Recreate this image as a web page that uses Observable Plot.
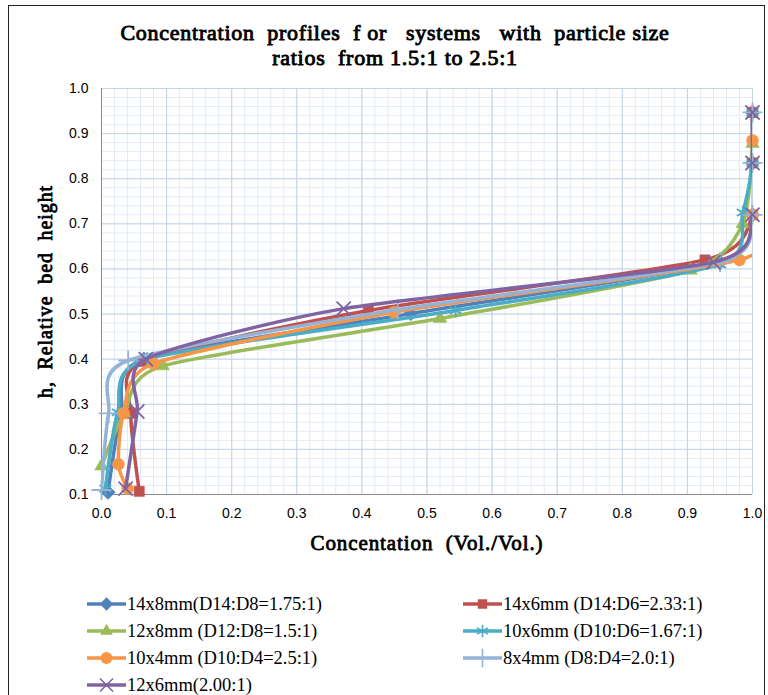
<!DOCTYPE html>
<html><head><meta charset="utf-8">
<script src="https://cdn.jsdelivr.net/npm/d3@7"></script>
<script src="https://cdn.jsdelivr.net/npm/@observablehq/plot@0.6"></script>
<style>
body{margin:0;background:#fff;width:768px;height:695px;overflow:hidden;position:relative;font-family:"Liberation Serif","Times New Roman",Times,serif}
#frame{position:absolute;left:8px;top:5px;width:757px;height:720px;border:1.5px solid #222;box-sizing:border-box}
#title{position:absolute;left:0;top:20px;width:790px;text-align:center;font-weight:normal;font-size:22px;letter-spacing:0.75px;line-height:25px;white-space:pre;color:#000;-webkit-text-stroke:0.9px #000;font-family:"Liberation Serif","Times New Roman",Times,serif}
#chart{position:absolute;left:0;top:70px}
#legend{position:absolute;left:0;top:580px}
.axtitle text{letter-spacing:0.9px}
</style>
</head><body>
<div id="frame"></div>
<div id="title">Concentration  profiles  f or   systems   with  particle size
ratios  from 1.5:1 to 2.5:1</div>
<div id="chart"></div>
<div id="legend"></div>
<script>
// ---- data (concentration, relative bed height) ----
const seriesNames = ["14x8mm(D14:D8=1.75:1)", "14x6mm (D14:D6=2.33:1)", "12x8mm (D12:D8=1.5:1)", "10x6mm (D10:D6=1.67:1)", "10x4mm (D10:D4=2.5:1)", "8x4mm (D8:D4=2.0:1)", "12x6mm(2.00:1)"];
const seriesColors = ["#4F81BD", "#C0504D", "#9BBB59", "#4BACC6", "#F79646", "#95B3D7", "#8064A2"];
const seriesSymbols = ["diamond2", "square2", "triangle2", "asterisk", "circle", "plus", "times"];

const c_14x8 = [0.010, 0.030, 0.065, 0.475, 0.950, 1.000, 1.000, 1.000];
const h_14x8 = [0.105, 0.280, 0.400, 0.501, 0.615, 0.720, 0.835, 0.947];
const c_14x6 = [0.058, 0.045, 0.063, 0.410, 0.927, 1.000, 1.000, 1.000];
const h_14x6 = [0.107, 0.280, 0.395, 0.508, 0.620, 0.720, 0.835, 0.947];
const c_12x8 = [0.000, 0.035, 0.094, 0.520, 0.905, 0.985, 1.000];
const h_12x8 = [0.163, 0.280, 0.385, 0.490, 0.597, 0.700, 0.878];
const c_10x6 = [0.006, 0.025, 0.070, 0.544, 0.950, 0.985, 1.000, 1.000];
const h_10x6 = [0.113, 0.282, 0.400, 0.508, 0.610, 0.725, 0.835, 0.947];
const c_10x4 = [0.040, 0.026, 0.034, 0.080, 0.449, 0.980, 1.000, 1.000];
const h_10x4 = [0.113, 0.167, 0.280, 0.390, 0.504, 0.620, 0.720, 0.885];
const c_8x4  = [0.000, 0.011, 0.041, 0.455, 0.950, 1.000, 1.000, 1.000];
const h_8x4  = [0.110, 0.280, 0.397, 0.510, 0.615, 0.720, 0.835, 0.947];
const c_12x6 = [0.037, 0.055, 0.068, 0.372, 0.940, 1.000, 1.000, 1.000];
const h_12x6 = [0.113, 0.284, 0.400, 0.512, 0.615, 0.720, 0.835, 0.947];

const xTicks = [0.0, 0.1, 0.2, 0.3, 0.4, 0.5, 0.6, 0.7, 0.8, 0.9, 1.0];
const yTicks = [0.1, 0.2, 0.3, 0.4, 0.5, 0.6, 0.7, 0.8, 0.9, 1.0];
const xTitle = "Concentation  (Vol./Vol.)";
const yTitle = "h,  Relative  bed  height";

const concs = [c_14x8, c_14x6, c_12x8, c_10x6, c_10x4, c_8x4, c_12x6];
const heights = [h_14x8, h_14x6, h_12x8, h_10x6, h_10x4, h_8x4, h_12x6];
const strokeSymbols = new Set(["asterisk", "plus", "times"]);
const serif = "Liberation Serif, Times New Roman, Times, serif";

const minorX = d3.range(0, 50.5).map(i => i / 50);
const minorY = d3.range(5, 50.5).map(i => i / 50);

const seriesMarks = [];
seriesNames.forEach((name, i) => {
  const rows = concs[i].map((c, j) => ({c, h: heights[i][j]}));
  const col = seriesColors[i], sym = seriesSymbols[i];
  seriesMarks.push(Plot.line(rows, {x: "c", y: "h", stroke: col, strokeWidth: 3.5, curve: "cardinal", tension: 0.3, clip: true, strokeLinejoin: "round"}));
  if (strokeSymbols.has(sym)) {
    seriesMarks.push(Plot.dot(rows, {x: "c", y: "h", symbol: () => sym, r: 6.5, stroke: col, strokeWidth: 1.8, fill: "none"}));
  } else {
    seriesMarks.push(Plot.dot(rows, {x: "c", y: "h", symbol: () => sym, r: sym === "circle" ? 6 : 6.5, fill: col, stroke: col, strokeWidth: 0.5}));
  }
});

const chart = Plot.plot({
  width: 768, height: 490,
  marginTop: 18, marginBottom: 66, marginLeft: 101, marginRight: 16,
  x: {domain: [0, 1]},
  y: {domain: [0.1, 1]},
  symbol: {type: "identity"},
  style: {fontFamily: "Liberation Sans, Arial, sans-serif", fontSize: "14px", color: "#000", background: "transparent"},
  marks: [
    Plot.gridX(minorX, {stroke: "#e3ebf5", strokeOpacity: 1}),
    Plot.gridY(minorY, {stroke: "#e3ebf5", strokeOpacity: 1}),
    Plot.gridX(xTicks, {stroke: "#c3d3e8", strokeOpacity: 1}),
    Plot.gridY(yTicks, {stroke: "#c3d3e8", strokeOpacity: 1}),
    Plot.axisX(xTicks, {tickSize: 0, tickPadding: 14, label: null, tickFormat: d3.format(".1f"), fontSize: 14}),
    Plot.axisY(yTicks, {tickSize: 0, tickPadding: 13, label: null, tickFormat: d3.format(".1f"), fontSize: 14}),
    Plot.ruleX([0], {stroke: "#8c8c8c", strokeWidth: 1}),
    Plot.ruleY([0.1], {stroke: "#8c8c8c", strokeWidth: 1}),
    ...seriesMarks,
    Plot.text([xTitle], {className: "axtitle", frameAnchor: "bottom", textAnchor: "middle", lineAnchor: "middle", dy: 49, fontFamily: serif, fontSize: 21, fill: "#000", stroke: "#000", strokeWidth: 0.8, paintOrder: "normal"}),
    Plot.text([yTitle], {className: "axtitle", frameAnchor: "left", textAnchor: "middle", lineAnchor: "middle", dx: -56, rotate: -90, fontFamily: serif, fontSize: 20, fill: "#000", stroke: "#000", strokeWidth: 0.8, paintOrder: "normal"})
  ]
});
chart.querySelectorAll("text").forEach(t => { t.style.whiteSpace = "pre"; });
document.getElementById("chart").appendChild(chart);

// ---- legend ----
const d3Sym = {diamond2: d3.symbolDiamond2, square2: d3.symbolSquare2, triangle2: d3.symbolTriangle2, asterisk: d3.symbolAsterisk, circle: d3.symbolCircle, plus: d3.symbolPlus, times: d3.symbolTimes};
const lg = d3.select("#legend").append("svg").attr("width", 768).attr("height", 115);
seriesNames.forEach((name, i) => {
  const colIdx = i % 2, row = Math.floor(i / 2);
  const x0 = colIdx ? 463 : 87, y0 = 24 + row * 27;
  const g = lg.append("g").attr("transform", `translate(${x0},${y0})`);
  g.append("line").attr("x1", 0).attr("x2", 39).attr("stroke", seriesColors[i]).attr("stroke-width", 3.5);
  const sym = seriesSymbols[i];
  const p = g.append("path").attr("transform", "translate(19.5,0)")
    .attr("d", d3.symbol(d3Sym[sym], Math.PI * 36)());
  if (strokeSymbols.has(sym)) p.attr("fill", "none").attr("stroke", seriesColors[i]).attr("stroke-width", 1.6);
  else p.attr("fill", seriesColors[i]);
  g.append("text").attr("x", 40).attr("dy", "0.35em").attr("font-family", serif)
    .attr("font-size", 18.5).attr("fill", "#000").text(name);
});
</script>
</body></html>
